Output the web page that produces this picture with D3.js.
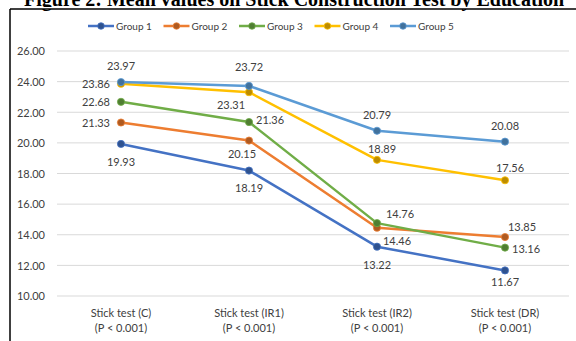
<!DOCTYPE html>
<html><head><meta charset="utf-8">
<script src="https://cdn.jsdelivr.net/npm/d3@7"></script>
<style>body{margin:0;background:#fff}svg{display:block}text{font-family:Lato,"Open Sans",sans-serif}</style>
</head><body>
<svg id="c" width="576" height="341"></svg>
<script>
const categories = ["Stick test (C)|(P < 0.001)", "Stick test (IR1)|(P < 0.001)", "Stick test (IR2)|(P < 0.001)", "Stick test (DR)|(P < 0.001)"];
const seriesNames = ["Group 1", "Group 2", "Group 3", "Group 4", "Group 5"];
const group1 = [19.93, 18.19, 13.22, 11.67];
const group2 = [21.33, 20.15, 14.46, 13.85];
const group3 = [22.68, 21.36, 14.76, 13.16];
const group4 = [23.86, 23.31, 18.89, 17.56];
const group5 = [23.97, 23.72, 20.79, 20.08];
const yTicks = [10, 12, 14, 16, 18, 20, 22, 24, 26];
const titleText = "Figure 2: Mean values on Stick Construction Test by Education";

const colors = ["#4472C4", "#ED7D31", "#70AD47", "#FFC000", "#5B9BD5"];
const markerColors = ["#2F528F", "#AE5A21", "#507E32", "#BC8C00", "#41719C"];
// label placement per series per point: [dx, dy, anchor]
const labelPos = [
  [[0,22,"middle"],[0,21,"middle"],[0,22,"middle"],[0,16,"middle"]],
  [[-11,4,"end"],[-7,17,"middle"],[20,17,"middle"],[17,-6,"middle"]],
  [[-11,4,"end"],[7,2,"start"],[23,-5,"middle"],[7,5,"start"]],
  [[-11,4,"end"],[-18,17,"middle"],[5,-7,"middle"],[5,-8,"middle"]],
  [[0,-12,"middle"],[0,-15,"middle"],[0,-12,"middle"],[0,-12,"middle"]]
];
const data = [group1, group2, group3, group4, group5];

const svg = d3.select("#c");
// title (cropped at top, as in the reference)
svg.append("text").attr("x", 24).attr("y", 6).attr("text-anchor", "start")
  .style("font-family", "'Liberation Serif', 'Times New Roman', serif").style("font-weight", "bold")
  .style("font-size", "20px").attr("fill", "#000").text(titleText);
svg.append("rect").attr("x", 0).attr("y", 7).attr("width", 576).attr("height", 2).attr("fill", "#fff");
// frame
svg.append("line").attr("x1", 10).attr("x2", 576).attr("y1", 9).attr("y2", 9).attr("stroke", "#000").attr("stroke-width", 1.5);
svg.append("line").attr("x1", 10).attr("x2", 10).attr("y1", 9).attr("y2", 341).attr("stroke", "#000").attr("stroke-width", 1.5);

const x = d3.scaleBand().domain(categories).range([57, 569]);
const y = d3.scaleLinear().domain([10, 26]).range([296, 51]);

// gridlines
svg.append("g").selectAll("line").data(yTicks).join("line")
  .attr("x1", 57).attr("x2", 569).attr("y1", d => y(d)).attr("y2", d => y(d))
  .attr("stroke", "#d9d9d9").attr("stroke-width", 1);

// y axis
const yAxis = d3.axisLeft(y).tickValues(yTicks).tickFormat(d3.format(".2f")).tickSize(0).tickPadding(0);
const gy = svg.append("g").attr("transform", "translate(45,0)").call(yAxis);
gy.select(".domain").remove();
gy.selectAll("text").style("font-size", "11px").attr("fill", "#404040").attr("dy", "0.35em");

// x axis labels
const xAxis = d3.axisBottom(x).tickSize(0).tickFormat(() => "");
const gx = svg.append("g").attr("transform", "translate(0,296)").call(xAxis);
gx.select(".domain").remove();
gx.selectAll(".tick").each(function(d) {
  const t = d3.select(this).append("text").attr("text-anchor", "middle").attr("fill", "#404040").style("font-size", "11px");
  d.split("|").forEach((s, i) => t.append("tspan").attr("x", 0).attr("y", 21 + i * 14.5).text(s));
});

const cx = c => x(c) + x.bandwidth() / 2;
const line = d3.line().x((d, i) => cx(categories[i])).y(d => y(d));

data.forEach((vals, si) => {
  svg.append("path").datum(vals).attr("d", line).attr("fill", "none")
    .attr("stroke", colors[si]).attr("stroke-width", 2.5).attr("stroke-linejoin", "round");
});
data.forEach((vals, si) => {
  const g = svg.append("g");
  g.selectAll("circle").data(vals).join("circle")
    .attr("cx", (d, i) => cx(categories[i])).attr("cy", d => y(d)).attr("r", 3.6)
    .attr("fill", markerColors[si]).attr("stroke", colors[si]).attr("stroke-width", 0.8);
  g.selectAll("text").data(vals).join("text")
    .attr("x", (d, i) => cx(categories[i]) + labelPos[si][i][0])
    .attr("y", (d, i) => y(d) + labelPos[si][i][1])
    .attr("text-anchor", (d, i) => labelPos[si][i][2])
    .attr("fill", "#404040").style("font-size", "11px").text(d => d.toFixed(2));
});

// legend
const legend = svg.append("g");
seriesNames.forEach((n, i) => {
  const lx = 88 + i * 75.5;
  legend.append("line").attr("x1", lx).attr("x2", lx + 26).attr("y1", 26).attr("y2", 26).attr("stroke", colors[i]).attr("stroke-width", 2.5);
  legend.append("circle").attr("cx", lx + 13).attr("cy", 26).attr("r", 3.3).attr("fill", markerColors[i]).attr("stroke", colors[i]).attr("stroke-width", 0.8);
  legend.append("text").attr("x", lx + 28).attr("y", 26).attr("dy", "0.35em").attr("fill", "#404040").style("font-size", "10px").text(n);
});
</script>
</body></html>
